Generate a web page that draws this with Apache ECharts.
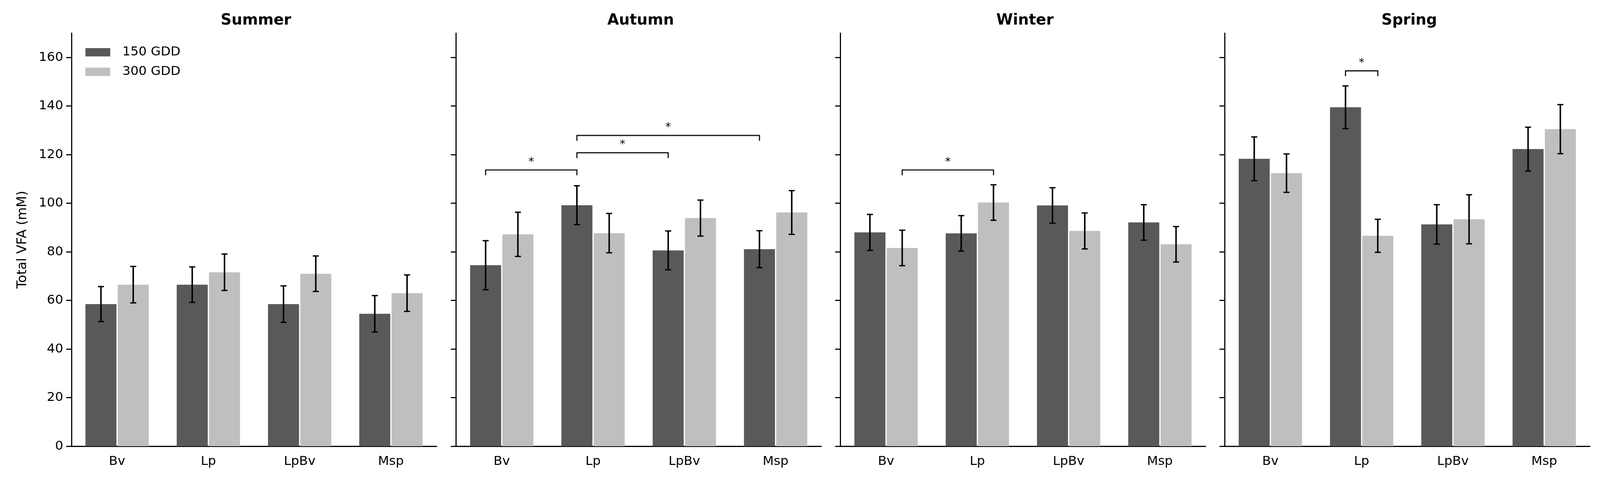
<!DOCTYPE html>
<html>
<head>
<meta charset="utf-8">
<script src="https://cdn.jsdelivr.net/npm/echarts@6/dist/echarts.min.js"></script>
<style>
  html, body { margin: 0; padding: 0; background: #fff; overflow: hidden; }
  #chart { width: 100vw; height: 100vh; }
</style>
</head>
<body>
<div id="chart"></div>
<script>
var chart = echarts.init(document.getElementById('chart'));

// data
var categories = ['Bv', 'Lp', 'LpBv', 'Msp'];
var seasons = ['Summer', 'Autumn', 'Winter', 'Spring'];
var yTicks = [0, 20, 40, 60, 80, 100, 120, 140, 160];

var summer150 = [58.5, 66.5, 58.5, 54.5];
var summer150Err = [7.2, 7.3, 7.5, 7.5];
var summer300 = [66.5, 71.6, 71.0, 63.0];
var summer300Err = [7.5, 7.5, 7.3, 7.5];

var autumn150 = [74.5, 99.2, 80.6, 81.1];
var autumn150Err = [10.1, 8.0, 8.0, 7.6];
var autumn300 = [87.2, 87.7, 93.9, 96.2];
var autumn300Err = [9.1, 8.1, 7.4, 9.0];

var winter150 = [88.0, 87.6, 99.1, 92.1];
var winter150Err = [7.4, 7.3, 7.3, 7.3];
var winter300 = [81.6, 100.3, 88.6, 83.1];
var winter300Err = [7.3, 7.3, 7.4, 7.3];

var spring150 = [118.3, 139.5, 91.3, 122.3];
var spring150Err = [9.0, 8.8, 8.1, 9.0];
var spring300 = [112.4, 86.6, 93.4, 130.5];
var spring300Err = [7.9, 6.8, 10.1, 10.1];

// significance brackets: [category1, bar1 (0=150,1=300), category2, bar2, height]
var summerSig = [];
var autumnSig = [[0, 0, 1, 0, 113.7], [1, 0, 2, 0, 120.8], [1, 0, 3, 0, 127.9]];
var winterSig = [[0, 1, 1, 1, 113.7]];
var springSig = [[1, 0, 1, 1, 154.5]];

var vals150 = [summer150, autumn150, winter150, spring150];
var errs150 = [summer150Err, autumn150Err, winter150Err, spring150Err];
var vals300 = [summer300, autumn300, winter300, spring300];
var errs300 = [summer300Err, autumn300Err, winter300Err, spring300Err];
var sigs = [summerSig, autumnSig, winterSig, springSig];

// layout is worked out for a 4255x1227 page and scaled to the real one
var W = chart.getWidth(), H = chart.getHeight();
var sx = W / 4255, sy = H / 1227, s = Math.min(sx, sy);

var dark = '#595959', light = '#bfbfbf';
var BAR_W = 0.34, BAR_GAP = 0.04;
var OFFSET = BAR_W * (1 + BAR_GAP) / 2;   // bar center offset, in band widths
var font = 'DejaVu Sans';

var gridLefts = [190, 1213, 2235, 3257];
var gridW = 971;

function renderErr(params, api) {
    var cat = api.value(0), mean = api.value(1), err = api.value(2), side = api.value(3);
    var band = api.size([1, 0])[0];
    var x = api.coord([cat, 0])[0] + (side === 0 ? -1 : 1) * band * OFFSET;
    var top = api.coord([cat, mean + err])[1];
    var bot = api.coord([cat, mean - err])[1];
    var cap = 8 * s;
    return {
        type: 'group',
        children: [
            { type: 'line', shape: { x1: x, y1: top, x2: x, y2: bot }, style: { stroke: '#000', lineWidth: 4 * s } },
            { type: 'line', shape: { x1: x - cap, y1: top, x2: x + cap, y2: top }, style: { stroke: '#000', lineWidth: 3.5 * s } },
            { type: 'line', shape: { x1: x - cap, y1: bot, x2: x + cap, y2: bot }, style: { stroke: '#000', lineWidth: 3.5 * s } }
        ]
    };
}

function renderSig(params, api) {
    var c1 = api.value(0), s1 = api.value(1), c2 = api.value(2), s2 = api.value(3), h = api.value(4);
    var band = api.size([1, 0])[0];
    var x1 = api.coord([c1, h])[0] + (s1 === 0 ? -1 : 1) * band * OFFSET;
    var x2 = api.coord([c2, h])[0] + (s2 === 0 ? -1 : 1) * band * OFFSET;
    var y = api.coord([c1, h])[1];
    var yd = api.coord([c1, h - 2.2])[1];
    return {
        type: 'group',
        children: [
            { type: 'polyline', shape: { points: [[x1, yd], [x1, y], [x2, y], [x2, yd]] },
              style: { stroke: '#111', lineWidth: 3 * s, fill: null } },
            { type: 'text', x: (x1 + x2) / 2, y: y - 21 * s,
              style: { text: '*', fontSize: 30 * s, fontFamily: font, fill: '#000', align: 'center', verticalAlign: 'middle' } }
        ]
    };
}

var grids = [], xAxes = [], yAxes = [], titles = [], series = [];

seasons.forEach(function (name, i) {
    grids.push({ left: gridLefts[i] * sx, width: gridW * sx, top: 85 * sy, bottom: 84 * sy });
    titles.push({
        text: name,
        left: (gridLefts[i] + gridW / 2) * sx,
        top: 28 * sy,
        textAlign: 'center',
        textStyle: { fontFamily: font, fontSize: 40 * s, fontWeight: 'bold', color: '#000' }
    });
    xAxes.push({
        type: 'category', gridIndex: i, data: categories,
        axisLine: { lineStyle: { color: '#000', width: 3 * s } },
        axisTick: { alignWithLabel: true, length: 14 * s, lineStyle: { color: '#000', width: 3 * s } },
        axisLabel: { fontFamily: font, fontSize: 34 * s, color: '#000', margin: 24 * s }
    });
    yAxes.push({
        type: 'value', gridIndex: i, min: 0, max: 170,
        name: i === 0 ? 'Total VFA (mM)' : '',
        nameLocation: 'middle', nameGap: 112 * s,
        nameTextStyle: { fontFamily: font, fontSize: 35 * s, color: '#000' },
        splitLine: { show: false },
        axisLine: { show: true, lineStyle: { color: '#000', width: 3 * s } },
        axisTick: { show: true, length: 14 * s, customValues: yTicks, lineStyle: { color: '#000', width: 3 * s } },
        axisLabel: { show: i === 0, customValues: yTicks, fontFamily: font, fontSize: 34 * s, color: '#000', margin: 22 * s }
    });

    series.push({
        name: '150 GDD', type: 'bar', xAxisIndex: i, yAxisIndex: i,
        data: vals150[i], barWidth: (BAR_W * 100) + '%', barGap: (BAR_GAP * 100) + '%',
        itemStyle: { color: dark }
    });
    series.push({
        name: '300 GDD', type: 'bar', xAxisIndex: i, yAxisIndex: i,
        data: vals300[i], barWidth: (BAR_W * 100) + '%', barGap: (BAR_GAP * 100) + '%',
        itemStyle: { color: light }
    });

    var errData = [];
    categories.forEach(function (c, k) {
        errData.push([k, vals150[i][k], errs150[i][k], 0]);
        errData.push([k, vals300[i][k], errs300[i][k], 1]);
    });
    series.push({
        type: 'custom', xAxisIndex: i, yAxisIndex: i, silent: true, z: 5,
        renderItem: renderErr, encode: { x: 0, y: 1 }, data: errData
    });
    if (sigs[i].length) {
        series.push({
            type: 'custom', xAxisIndex: i, yAxisIndex: i, silent: true, z: 5,
            renderItem: renderSig, encode: { x: 0, y: 4 }, data: sigs[i]
        });
    }
});

chart.setOption({
    animation: false,
    title: titles,
    legend: {
        data: ['150 GDD', '300 GDD'],
        orient: 'vertical',
        left: 222 * sx, top: 112 * sy,
        itemWidth: 66 * s, itemHeight: 22 * s, itemGap: 17 * s,
        icon: 'rect',
        textStyle: { fontFamily: font, fontSize: 34 * s, color: '#000', lineHeight: 35 * s, padding: [0, 0, 0, 27 * s] }
    },
    grid: grids,
    xAxis: xAxes,
    yAxis: yAxes,
    series: series
});
</script>
</body>
</html>
